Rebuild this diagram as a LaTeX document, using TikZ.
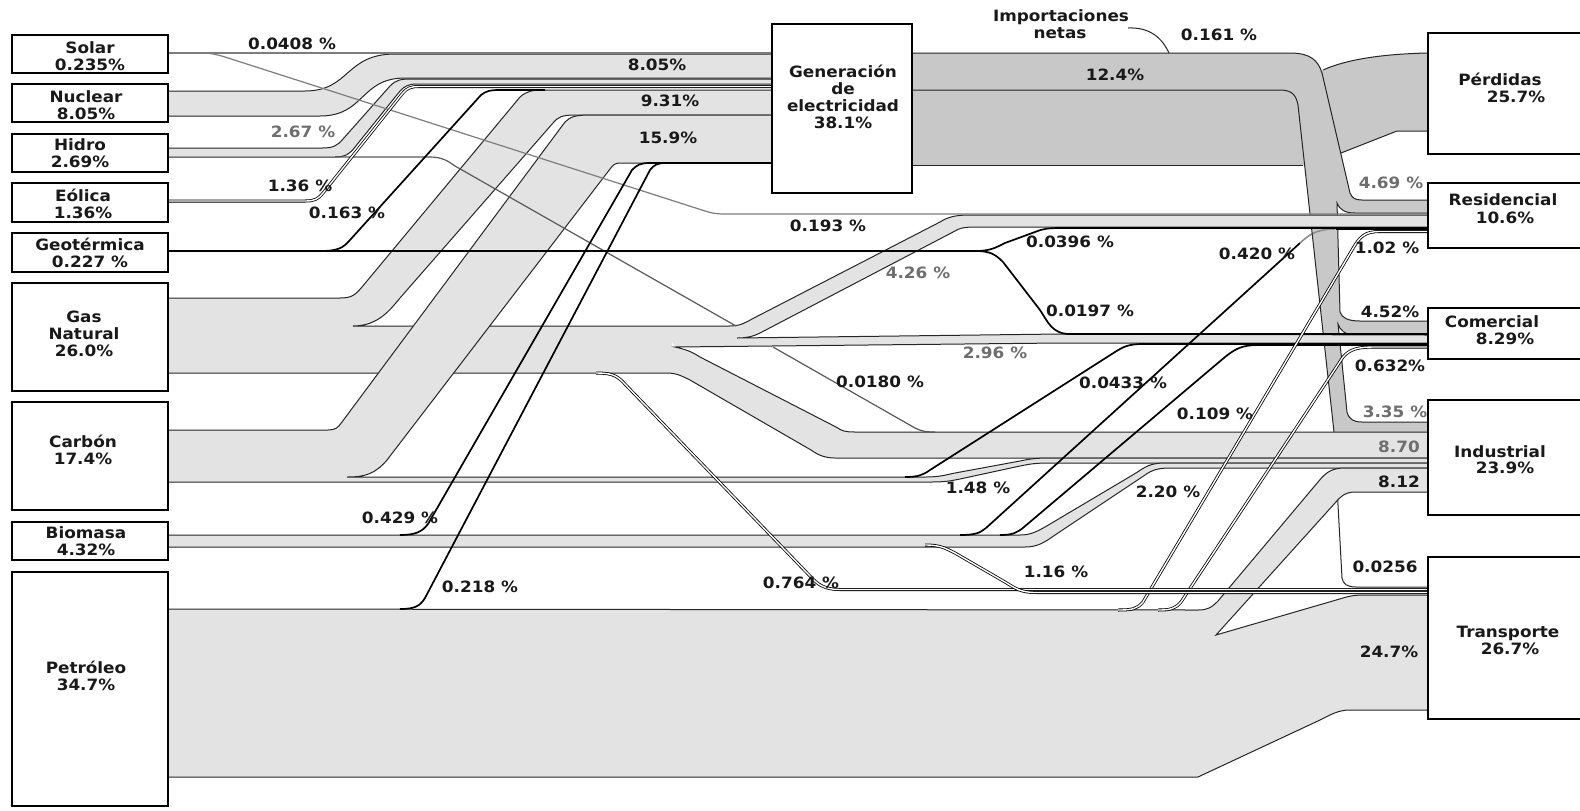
\documentclass[tikz,border=0pt]{standalone}
\usepackage{fontspec}
\newfontfamily\lbl{DejaVu Sans}[FakeStretch=1.08]
\definecolor{bl}{RGB}{227,227,227}
\definecolor{bd}{RGB}{200,200,200}
\definecolor{lg}{RGB}{110,110,110}
\definecolor{sl}{RGB}{125,125,125}
\begin{document}
\begin{tikzpicture}[x=0.5pt,y=-0.5pt,
  txt/.style={font=\lbl\bfseries\fontsize{7.8}{8.6}\selectfont, text=black!90, inner sep=0pt, align=center},
  gtxt/.style={txt, text=lg},
  edge/.style={draw=black!85, line width=0.5pt},
  blk/.style={draw=black, line width=0.85pt},
  glin/.style={draw=sl, line width=0.6pt},
  dbl/.style={draw=black, line width=0.4pt, double=white, double distance=0.7pt},
  box/.style={draw=black, line width=0.7pt, fill=white}]
\useasboundingbox (0,0) rectangle (1580,810);
\fill[white] (0,0) rectangle (1580,810);
\begin{scope}
\clip (0,0) rectangle (1580,810);
% ---------- losses ----------
\fill[bd] (912,90) -- (1300,90) -- (1323,70) .. controls (1345,60) and (1380,54) .. (1428,53) -- (1428,131) -- (1397,131) -- (1341,153) -- (1303,165) -- (912,165) -- cycle;
\draw[edge] (912,165) -- (1303,165);
\draw[edge] (1323,70) .. controls (1345,60) and (1380,54) .. (1428,53);
\draw[edge] (1341,153) -- (1397,131) -- (1428,131);
% ---------- hidden line ----------
\draw[edge] (1334,432) -- (1342,578) .. controls (1343,584) and (1347,587) .. (1356,587) -- (1428,587);
% ---------- electricity ----------
\fill[bd] (912,53) -- (1290,53) .. controls (1310,53) and (1318,60) .. (1322,73) -- (1350,193) .. controls (1352,198) and (1355,200) .. (1362,200) -- (1428,200) -- (1428,213) -- (1355,213) .. controls (1345,213) and (1340,210) .. (1337,203) -- (1340,312) .. controls (1342,318) and (1348,321) .. (1360,321) -- (1428,321) -- (1428,335) -- (1355,335) .. controls (1345,335) and (1340,330) .. (1338,324) -- (1347,412) .. controls (1349,419) and (1353,422) .. (1362,422) -- (1428,422) -- (1428,432) -- (1334,432) -- (1298,105) .. controls (1296,95) and (1292,90) .. (1280,90) -- (912,90) -- cycle;
\draw[draw=black!45, line width=0.8pt] (1300,243) .. controls (1308,236) and (1315,229) .. (1335,229);
\draw[edge] (912,53) -- (1290,53) .. controls (1310,53) and (1318,60) .. (1322,73) -- (1350,193) .. controls (1352,198) and (1355,200) .. (1362,200) -- (1428,200);
\draw[edge] (1428,213) -- (1355,213) .. controls (1345,213) and (1340,210) .. (1337,203) -- (1340,312) .. controls (1342,318) and (1348,321) .. (1360,321) -- (1428,321);
\draw[edge] (1428,335) -- (1355,335) .. controls (1345,335) and (1340,330) .. (1338,324) -- (1347,412) .. controls (1349,419) and (1353,422) .. (1362,422) -- (1428,422);
\draw[edge] (1334,432) -- (1298,105) .. controls (1296,95) and (1292,90) .. (1280,90) -- (912,90);
% ---------- nuclear ----------
\fill[bl] (168,91) -- (305,91) .. controls (350,91) and (345,54) .. (395,54) -- (772,54) -- (772,78) -- (405,78) .. controls (360,78) and (365,116) .. (320,116) -- (168,116) -- cycle;
\draw[edge] (168,91) -- (305,91) .. controls (350,91) and (345,54) .. (395,54) -- (772,54);
\draw[edge] (168,116) -- (320,116) .. controls (365,116) and (360,78) .. (405,78) -- (772,78);
% ---------- hidro ----------
\fill[bl] (168,148) -- (322,148) .. controls (333,148) and (337,146) .. (343,139) -- (390,86) .. controls (396,80) and (400,79) .. (412,79) -- (772,79) -- (772,84) -- (418,84) .. controls (408,84) and (405,86) .. (400,91) -- (355,147) .. controls (350,154) and (345,157) .. (335,157) -- (168,157) -- cycle;
\draw[edge] (168,148) -- (322,148) .. controls (333,148) and (337,146) .. (343,139) -- (390,86) .. controls (396,80) and (400,79) .. (412,79) -- (772,79);
\draw[edge] (772,84) -- (418,84) .. controls (408,84) and (405,86) .. (400,91) -- (355,147) .. controls (350,154) and (345,157) .. (335,157) -- (168,157);
% ---------- gas ----------
\fill[bl] (168,298) -- (340,298) .. controls (352,298) and (355,295) .. (362,287) -- (520,97) .. controls (527,91) and (532,90) .. (545,90) -- (772,90) -- (772,115) -- (575,115) .. controls (562,115) and (558,117) .. (553,123) -- (400,298) .. controls (390,310) and (378,326) .. (353,326) -- (168,326) -- cycle;
\fill[bl] (168,326) rectangle (672,373);
\fill[bl] (660,326) rectangle (730,338);
\fill[bl] (720,326) -- (729,326) .. controls (740,326) and (745,323) .. (752,319) -- (940,222) .. controls (948,217) and (955,215) .. (970,215) -- (1428,215) -- (1428,227) -- (975,227) .. controls (962,227) and (958,229) .. (955,231) -- (760,333) .. controls (752,337) and (745,338) .. (737,338) -- (720,338) -- cycle;
\fill[bl] (670,338) -- (737,338) -- (1060,334) -- (1428,335) -- (1428,343) -- (1060,343) -- (675,347) -- cycle;
\fill[bl] (650,340) -- (675,347) .. controls (688,350) and (692,352) .. (700,357) -- (836,427) .. controls (842,431) and (845,432) .. (855,432) -- (1428,432) -- (1428,458) -- (835,458) .. controls (825,458) and (818,455) .. (811,450) -- (690,380) .. controls (680,375) and (675,373) .. (668,373) -- (650,373) -- cycle;
\draw[edge] (168,298) -- (340,298) .. controls (352,298) and (355,295) .. (362,287) -- (520,97) .. controls (527,91) and (532,90) .. (545,90) -- (772,90);
\draw[edge] (772,115) -- (575,115) .. controls (562,115) and (558,117) .. (553,123) -- (400,298) .. controls (390,310) and (378,326) .. (353,326) -- (729,326) .. controls (740,326) and (745,323) .. (752,319) -- (940,222) .. controls (948,217) and (955,215) .. (970,215) -- (1428,215);
\draw[edge] (1428,227) -- (975,227) .. controls (962,227) and (958,229) .. (955,231) -- (760,333) .. controls (752,337) and (745,338) .. (737,338) -- (1060,334) -- (1428,335);
\draw[edge] (1428,343) -- (1060,343) -- (675,347) .. controls (688,350) and (692,352) .. (700,357) -- (836,427) .. controls (842,431) and (845,432) .. (855,432) -- (1428,432);
\draw[edge] (1428,458) -- (835,458) .. controls (825,458) and (818,455) .. (811,450) -- (690,380) .. controls (680,375) and (675,373) .. (668,373) -- (168,373);
% ---------- coal ----------
\fill[bl] (168,430) -- (328,430) .. controls (335,430) and (338,428) .. (342,422) -- (565,122) .. controls (570,117) and (575,115) .. (590,115) -- (772,115) -- (772,163) -- (620,163) .. controls (615,163) and (613,165) .. (610,169) -- (387,460) .. controls (375,474) and (365,477) .. (347,477) -- (168,477) -- cycle;
\fill[bl] (168,477) -- (925,477) .. controls (940,477) and (945,475) .. (955,473) -- (1020,461) .. controls (1030,459) and (1035,458) .. (1050,458) -- (1428,458) -- (1428,463) -- (1050,463) .. controls (1035,463) and (1030,464) .. (1020,466) -- (960,479) .. controls (950,481) and (945,482) .. (930,482) -- (168,482) -- cycle;
\draw[edge] (168,430) -- (328,430) .. controls (335,430) and (338,428) .. (342,422) -- (565,122) .. controls (570,117) and (575,115) .. (590,115) -- (772,115);
\draw[edge] (772,163) -- (620,163) .. controls (615,163) and (613,165) .. (610,169) -- (387,460) .. controls (375,474) and (365,477) .. (347,477) -- (925,477) .. controls (940,477) and (945,475) .. (955,473) -- (1020,461) .. controls (1030,459) and (1035,458) .. (1050,458) -- (1428,458);
\draw[edge] (168,482) -- (930,482) .. controls (945,482) and (950,481) .. (960,479) -- (1020,466) .. controls (1030,464) and (1035,463) .. (1050,463) -- (1428,463);
% ---------- biomass ----------
\fill[bl] (168,535) rectangle (1025,547);
\fill[bl] (1000,535) -- (1020,535) .. controls (1030,535) and (1036,532) .. (1045,527) -- (1136,473) .. controls (1145,467) and (1150,463) .. (1165,463) -- (1428,463) -- (1428,468) -- (1170,468) .. controls (1158,468) and (1152,470) .. (1145,475) -- (1055,535) .. controls (1045,542) and (1038,547) .. (1025,547) -- (1000,547) -- cycle;
\draw[edge] (168,535) -- (1020,535) .. controls (1030,535) and (1036,532) .. (1045,527) -- (1136,473) .. controls (1145,467) and (1150,463) .. (1165,463) -- (1428,463);
\draw[edge] (168,547) -- (1025,547) .. controls (1038,547) and (1045,542) .. (1055,535) -- (1145,475) .. controls (1152,470) and (1158,468) .. (1170,468) -- (1428,468);
% ---------- petroleum ----------
\fill[bl] (168,609) -- (1200,609) -- (1216,635) -- (1343,598) .. controls (1351,595.5) and (1356,595) .. (1367,595) -- (1428,595) -- (1428,710) -- (1350,710) .. controls (1338,710) and (1330,715) .. (1320,720) -- (1198,777) -- (168,777) -- cycle;
\fill[bl] (1190,609) -- (1198,610) .. controls (1207,610) and (1211,608) .. (1218,601) -- (1318,482) .. controls (1326,472) and (1332,468) .. (1345,468) -- (1428,468) -- (1428,492) -- (1355,492) .. controls (1345,492) and (1340,497) .. (1335,503) -- (1216,635) -- (1190,635) -- cycle;
\draw[edge] (168,609) -- (1198,610) .. controls (1207,610) and (1211,608) .. (1218,601) -- (1318,482) .. controls (1326,472) and (1332,468) .. (1345,468) -- (1428,468);
\draw[edge] (1428,492) -- (1355,492) .. controls (1345,492) and (1340,497) .. (1335,503) -- (1216,635) -- (1343,598) .. controls (1351,595.5) and (1356,595) .. (1367,595) -- (1428,595);
\draw[edge] (168,777) -- (1198,777) -- (1320,720) .. controls (1330,715) and (1338,710) .. (1350,710) -- (1428,710);
% ---------- thin flows ----------
\draw[glin] (168,53) -- (772,53);
\draw[glin] (200,53) .. controls (210,53) and (215,54) .. (225,57) -- (705,211) .. controls (712,213) and (715,214) .. (725,214) -- (1428,214);
\draw[draw=black!65, line width=0.6pt] (335,157) -- (430,157) .. controls (442,157) and (448,161) .. (455,166) -- (736,326);
\draw[draw=black!65, line width=0.6pt] (773,347) -- (915,428) .. controls (921,431) and (925,432) .. (935,432);
\draw[dbl] (168,201) -- (305,201) .. controls (315,201) and (318,199) .. (323,193) -- (402,94) .. controls (407,88) and (410,86.5) .. (420,86.5) -- (772,86.5);
\draw[blk] (168,251) -- (975,251);
\draw[blk] (320,251) .. controls (338,251) and (343,248) .. (350,240) -- (481,95) .. controls (486,91) and (490,90) .. (500,90) -- (545,90);
\draw[blk] (975,251) .. controls (990,251) and (995,248) .. (1005,243) -- (1035,232) .. controls (1042,229) and (1048,228) .. (1060,228) -- (1428,228);
\draw[blk] (975,251) .. controls (990,251) and (995,254) .. (1003,262) -- (1040,310) .. controls (1048,322) and (1052,334) .. (1070,334) -- (1428,334);
\draw[blk] (400,535) .. controls (415,535) and (422,532) .. (428,524) -- (632,170) .. controls (637,165) and (640,163) .. (650,163) -- (772,163);
\draw[blk] (400,609) .. controls (415,609) and (420,606) .. (425,598) -- (650,170) .. controls (654,165) and (657,163) .. (666,163) -- (772,163);
\draw[blk] (905,477) .. controls (918,477) and (923,475) .. (930,470) -- (1115,352) .. controls (1123,347) and (1128,344) .. (1143,344) -- (1428,344);
\draw[blk] (1000,535) .. controls (1012,535) and (1017,533) .. (1024,527) -- (1225,357) .. controls (1235,349) and (1242,345) .. (1258,345) -- (1428,345);
\draw[blk] (960,535) .. controls (975,535) and (980,533) .. (986,528) -- (1300,243);
\draw[blk] (1336,229) -- (1428,229);
\draw[dbl] (1118,610) .. controls (1132,610) and (1137,609) .. (1143,602) -- (1352,250) .. controls (1360,236) and (1365,231.5) .. (1380,231.5) -- (1428,231.5);
\draw[dbl] (1158,610) .. controls (1170,610) and (1175,609) .. (1181,602) -- (1343,357) .. controls (1350,349) and (1358,347) .. (1375,347) -- (1428,347);
\draw[dbl] (596,373) .. controls (610,373) and (615,375) .. (621,380) -- (810,576) .. controls (818,585) and (825,589.5) .. (840,589.5) -- (1428,589.5);
\draw[dbl] (925,545) .. controls (940,545) and (945,548) .. (955,553) -- (1005,582) .. controls (1015,588) and (1020,592.5) .. (1036,592.5) -- (1428,592.5);
\draw[edge] (1128,28) .. controls (1150,27) and (1162,38) .. (1169,53);
% ---------- boxes ----------
\draw[box] (12,35) rectangle (168,73);
\draw[box] (12,84) rectangle (168,122);
\draw[box] (12,134) rectangle (168,172);
\draw[box] (12,183) rectangle (168,222);
\draw[box] (12,233) rectangle (168,272);
\draw[box] (12,283) rectangle (168,391);
\draw[box] (12,402) rectangle (168,510);
\draw[box] (12,522) rectangle (168,560);
\draw[box] (12,572) rectangle (168,806);
\draw[box] (772,24) rectangle (912,193);
\draw[box] (1428,33) rectangle (1600,154);
\draw[box] (1428,183) rectangle (1600,248);
\draw[box] (1428,308) rectangle (1600,359);
\draw[box] (1428,400) rectangle (1600,515);
\draw[box] (1428,557) rectangle (1600,719);
% ---------- box texts ----------
\node[txt] (tsolar) at (90,56) {Solar\\0.235\%};
\node[txt] (tnuc) at (86,105) {Nuclear\\8.05\%};
\node[txt] (thid) at (80,153) {Hidro\\2.69\%};
\node[txt] (teol) at (83,204) {Eólica\\1.36\%};
\node[txt] (tgeo) at (90,253) {Geotérmica\\0.227 \%};
\node[txt] (tgas) at (84,334) {Gas\\Natural\\26.0\%};
\node[txt] (tcar) at (83,450) {Carbón\\17.4\%};
\node[txt] (tbio) at (86,541) {Biomasa\\4.32\%};
\node[txt] (tpet) at (86,676) {Petróleo\\34.7\%};
\node[txt] (tgen) at (843,97) {Generación\\de\\electricidad\\38.1\%};
\node[txt] (timp) at (1061,17) {Importaciones};
\node[txt] (tnet) at (1060,33) {netas};
\node[txt] (tper1) at (1500,79) {Pérdidas};
\node[txt] (tper2) at (1516,97) {25.7\%};
\node[txt] (tres1) at (1503,200) {Residencial};
\node[txt] (tres2) at (1505,218) {10.6\%};
\node[txt] (tcom1) at (1492,322) {Comercial};
\node[txt] (tcom2) at (1505,339) {8.29\%};
\node[txt] (tind1) at (1500,452) {Industrial};
\node[txt] (tind2) at (1505,468) {23.9\%};
\node[txt] (ttra1) at (1508,633) {Transporte};
\node[txt] (ttra2) at (1510,649) {26.7\%};
% ---------- flow labels ----------
\node[txt] (l1) at (292,44) {0.0408 \%};
\node[txt] (l2) at (657,65) {8.05\%};
\node[txt] (l3) at (670,101) {9.31\%};
\node[txt] (l4) at (668,138) {15.9\%};
\node[gtxt] (l5) at (303,132) {2.67 \%};
\node[txt] (l6) at (300,186) {1.36 \%};
\node[txt] (l7) at (347,213) {0.163 \%};
\node[txt] (l8) at (400,518) {0.429 \%};
\node[txt] (l9) at (480,587) {0.218 \%};
\node[txt] (l10) at (828,226) {0.193 \%};
\node[gtxt] (l11) at (918,273) {4.26 \%};
\node[txt] (l12) at (1070,242) {0.0396 \%};
\node[txt] (l13) at (1090,311) {0.0197 \%};
\node[gtxt] (l14) at (995,353) {2.96 \%};
\node[txt] (l15) at (880,382) {0.0180 \%};
\node[txt] (l16) at (1123,383) {0.0433 \%};
\node[txt] (l17) at (1215,414) {0.109 \%};
\node[txt] (l18) at (978,488) {1.48 \%};
\node[txt] (l19) at (1168,492) {2.20 \%};
\node[txt] (l20) at (801,583) {0.764 \%};
\node[txt] (l21) at (1056,572) {1.16 \%};
\node[txt] (l22) at (1257,254) {0.420 \%};
\node[txt] (l23) at (1387,248) {1.02 \%};
\node[gtxt] (l24) at (1391,183) {4.69 \%};
\node[txt] (l25) at (1390,312) {4.52\%};
\node[txt] (l26) at (1390,366) {0.632\%};
\node[gtxt] (l27) at (1395,412) {3.35 \%};
\node[gtxt] (l28) at (1399,447) {8.70};
\node[txt] (l29) at (1399,482) {8.12};
\node[txt] (l30) at (1385,567) {0.0256};
\node[txt] (l31) at (1389,652) {24.7\%};
\node[txt] (l32) at (1219,35) {0.161 \%};
\node[txt] (l33) at (1115,75) {12.4\%};
\end{scope}
\end{tikzpicture}
\end{document}
